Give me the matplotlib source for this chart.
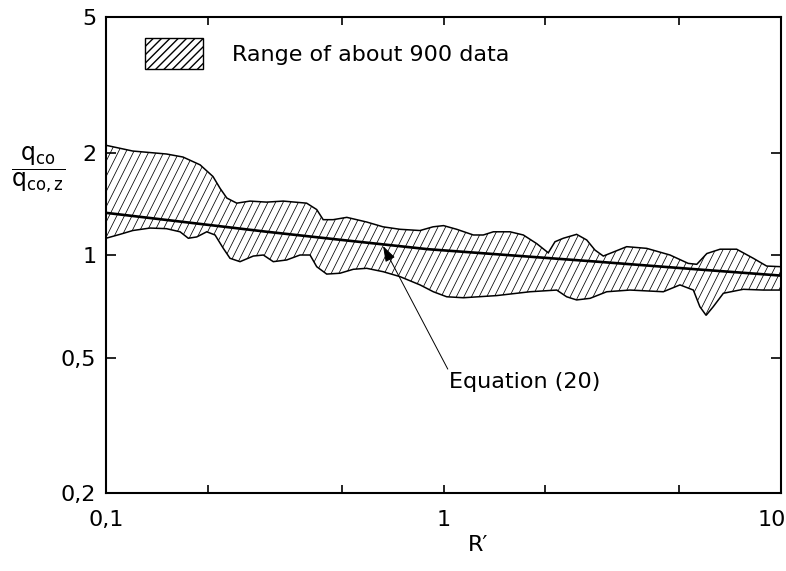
import numpy as np
import matplotlib
matplotlib.use("Agg")
import matplotlib.pyplot as plt
import matplotlib.transforms as mtransforms
from matplotlib.collections import LineCollection
from matplotlib.patches import Patch
from matplotlib.ticker import FixedLocator, FuncFormatter, NullFormatter

# upper and lower edge of the scatter band
upper_x = [0.1, 0.12, 0.151, 0.169, 0.19, 0.2075, 0.2177, 0.228, 0.244, 0.267,
           0.299, 0.335, 0.393, 0.421, 0.44, 0.471, 0.517, 0.592, 0.662, 0.743,
           0.852, 0.931, 1.0, 1.094, 1.226, 1.312, 1.405, 1.574, 1.724, 1.889,
           2.044, 2.14, 2.265, 2.48, 2.657, 2.811, 2.975, 3.185, 3.49, 4.0,
           4.69, 5.31, 5.63, 6.03, 6.6, 7.39, 8.28, 9.07, 10.0]
upper_y = [2.10, 2.02, 1.98, 1.94, 1.84, 1.70, 1.57, 1.47, 1.42, 1.44,
           1.43, 1.44, 1.42, 1.36, 1.27, 1.27, 1.29, 1.25, 1.21, 1.19,
           1.18, 1.21, 1.22, 1.19, 1.145, 1.145, 1.17, 1.17, 1.145, 1.08,
           1.015, 1.094, 1.12, 1.15, 1.107, 1.034, 0.993, 1.02, 1.058, 1.046,
           1.0, 0.945, 0.939, 1.01, 1.04, 1.04, 0.978, 0.928, 0.924]
lower_x = [0.1, 0.11, 0.12, 0.135, 0.151, 0.1657, 0.1753, 0.1857, 0.1988, 0.2104,
           0.2226, 0.233, 0.2495, 0.2732, 0.2925, 0.313, 0.343, 0.3757, 0.4023, 0.421,
           0.4507, 0.4935, 0.5405, 0.592, 0.6634, 0.743, 0.852, 0.933, 1.022, 1.145,
           1.438, 1.804, 2.165, 2.317, 2.48, 2.718, 3.045, 3.569, 4.48, 5.02,
           5.5, 5.75, 6.0, 6.3, 6.75, 7.73, 8.86, 10.0]
lower_y = [1.12, 1.15, 1.18, 1.20, 1.195, 1.17, 1.12, 1.13, 1.17, 1.145,
           1.046, 0.978, 0.956, 0.993, 1.0, 0.956, 0.967, 1.0, 1.0, 0.924,
           0.879, 0.884, 0.908, 0.914, 0.893, 0.864, 0.817, 0.78, 0.754, 0.749,
           0.76, 0.78, 0.789, 0.754, 0.738, 0.746, 0.78, 0.789, 0.78, 0.817,
           0.789, 0.705, 0.665, 0.705, 0.772, 0.793, 0.789, 0.789]

# Equation (20)
eq_x = [0.1, 0.3, 0.5, 0.9, 2.85, 5.6, 10.0]
eq_y = [1.33, 1.17, 1.107, 1.04, 0.956, 0.908, 0.87]

x_major = [0.1, 1, 10]
x_minor = [0.2, 0.5, 2, 5]
y_major = [0.2, 0.5, 1, 2, 5]

FS = 16


def comma(v, pos=None):
    return f"{v:g}".replace(".", ",")


fig = plt.figure(figsize=(7.86, 5.71), dpi=100)
ax = fig.add_axes([0.1349, 0.1366, 0.8587, 0.8336])
ax.set_xscale("log")
ax.set_yscale("log")
ax.set_xlim(0.1, 10)
ax.set_ylim(0.2, 5)

# band outline
poly = ax.fill(np.concatenate([upper_x, lower_x[::-1]]),
               np.concatenate([upper_y, lower_y[::-1]]),
               facecolor="none", edgecolor="black", lw=1.1, zorder=3)[0]

# steep hatch, clipped to the band
step = 7.6 / 675
dx = 0.5 * 476 / 675
x0 = np.arange(-1.0, 1.2, step)
segs = [[(a, 0.0), (a + dx, 1.0)] for a in x0]
hatch = LineCollection(segs, colors="black", linewidths=0.55,
                       transform=ax.transAxes, zorder=2)
hatch.set_clip_path(poly)
ax.add_collection(hatch)

ax.plot(eq_x, eq_y, color="black", lw=1.9, zorder=4)

ax.annotate("Equation (20)", xy=(0.662, 1.063), xytext=(1.04, 0.424),
            fontsize=FS, ha="left", va="center",
            arrowprops=dict(arrowstyle="-|>,head_length=0.6,head_width=0.2",
                            color="black", lw=0.7, relpos=(0, 1),
                            shrinkA=0, shrinkB=0))

leg_handle = Patch(facecolor="white", edgecolor="black", hatch="////", lw=1.0)
ax.legend([leg_handle], ["Range of about 900 data"], loc="upper left",
          bbox_to_anchor=(0.0578, 0.956), frameon=False, fontsize=FS,
          handlelength=2.6, handleheight=1.8, handletextpad=1.3,
          borderpad=0, borderaxespad=0)

ax.xaxis.set_major_locator(FixedLocator(x_major))
ax.xaxis.set_minor_locator(FixedLocator(x_minor))
ax.xaxis.set_major_formatter(FuncFormatter(comma))
ax.xaxis.set_minor_formatter(NullFormatter())
ax.yaxis.set_major_locator(FixedLocator(y_major))
ax.yaxis.set_minor_locator(FixedLocator([]))
ax.yaxis.set_major_formatter(FuncFormatter(comma))

ax.tick_params(which="both", direction="in", top=True, right=True,
               width=1.2, labelsize=FS)
ax.tick_params(axis="x", which="both", length=6, pad=12)
ax.tick_params(axis="y", which="both", length=7, pad=7)
for s in ax.spines.values():
    s.set_linewidth(1.5)

# keep "10" inside the figure
last = ax.xaxis.get_major_ticks()[-1].label1
last.set_horizontalalignment("right")
last.set_transform(last.get_transform() +
                   mtransforms.ScaledTranslation(5 / 100, 0, fig.dpi_scale_trans))

ax.set_xlabel("R\u2032", fontsize=FS, x=0.551, labelpad=4)

plt.rcParams["mathtext.fontset"] = "custom"
plt.rcParams["mathtext.rm"] = "DejaVu Sans"
ax.text(-0.10, 0.679, r"$\dfrac{\mathrm{q_{co}}}{\mathrm{q_{co,z}}}$",
        transform=ax.transAxes, fontsize=FS + 1, ha="center", va="center")

fig.savefig("out.png", dpi=100)
